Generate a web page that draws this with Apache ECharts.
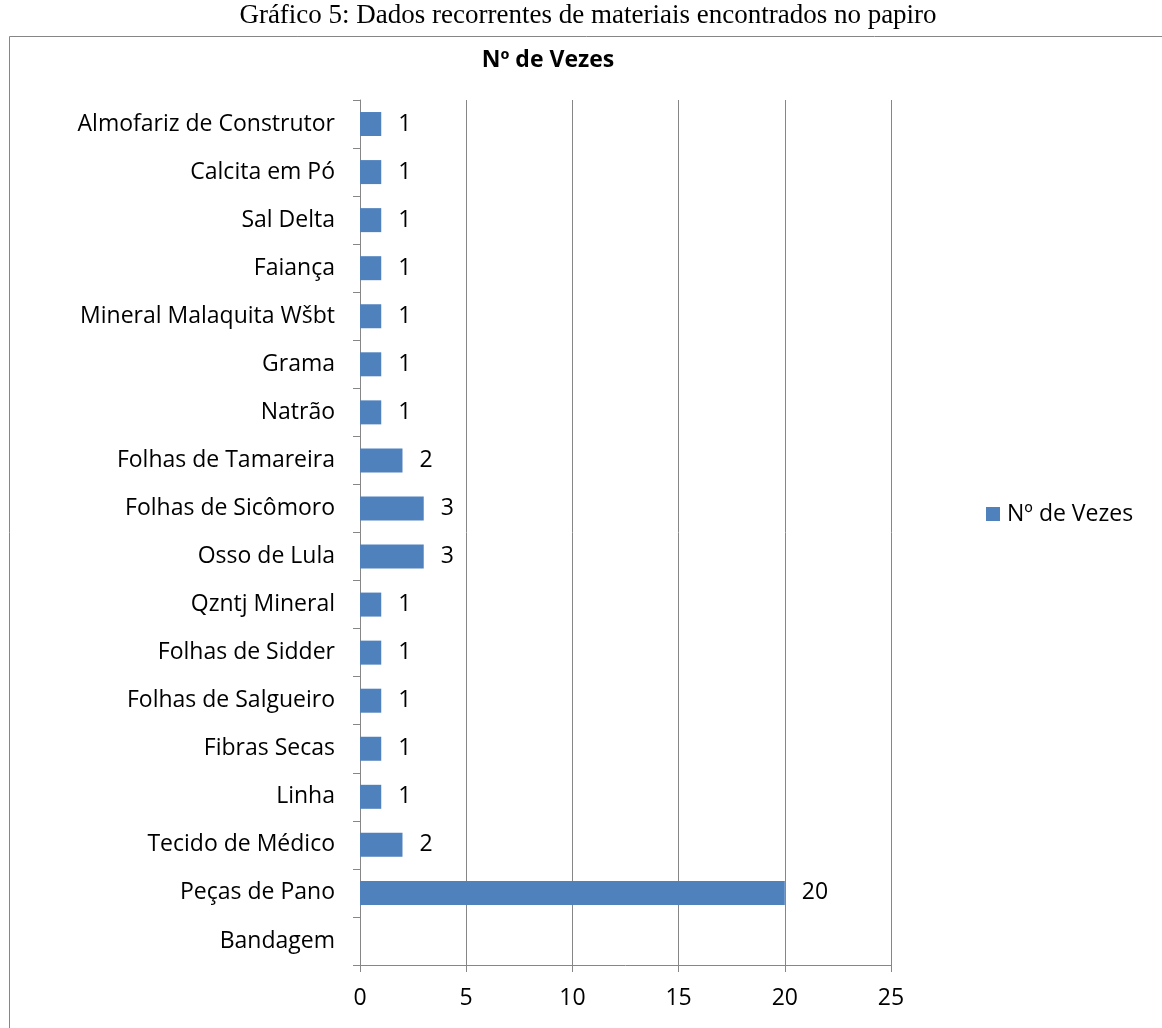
<!DOCTYPE html>
<html>
<head>
<meta charset="utf-8">
<script src="https://cdn.jsdelivr.net/npm/echarts@6/dist/echarts.min.js"></script>
<style>
  html, body { margin: 0; padding: 0; background: #fff; }
  #chart { width: 1162px; height: 1028px; }
</style>
</head>
<body>
<div id="chart"></div>
<script>
// categories listed top to bottom (y axis is inverted)
const categories = [
  'Almofariz de Construtor', 'Calcita em Pó', 'Sal Delta', 'Faiança',
  'Mineral Malaquita Wšbt', 'Grama', 'Natrão', 'Folhas de Tamareira',
  'Folhas de Sicômoro', 'Osso de Lula', 'Qzntj Mineral', 'Folhas de Sidder',
  'Folhas de Salgueiro', 'Fibras Secas', 'Linha', 'Tecido de Médico',
  'Peças de Pano', 'Bandagem'
]
const vezes = [1, 1, 1, 1, 1, 1, 1, 2, 3, 3, 1, 1, 1, 1, 1, 2, 20, null]
const xTicks = [0, 5, 10, 15, 20, 25]

const caption = 'Gráfico 5: Dados recorrentes de materiais encontrados no papiro'
const seriesName = 'Nº de Vezes'

const font = '"Open Sans", "Noto Sans", sans-serif'
const gray = '#868686'
const fs = 23

const chart = echarts.init(document.getElementById('chart'))

chart.setOption({
  backgroundColor: '#fff',
  animation: false,
  title: {
    text: seriesName,
    left: 543,
    top: 44,
    textAlign: 'center',
    textStyle: { fontFamily: font, fontWeight: 'bold', fontSize: 23, color: '#000' }
  },
  graphic: [
    {
      type: 'rect',
      shape: { x: 9.5, y: 36.5, width: 1300, height: 1200 },
      style: { fill: 'none', stroke: gray, lineWidth: 1 },
      silent: true
    },
    {
      type: 'text',
      x: 588,
      y: 2,
      style: {
        text: caption,
        align: 'center',
        verticalAlign: 'top',
        fontFamily: '"Liberation Serif", "DejaVu Serif", serif',
        fontSize: 27,
        fill: '#000'
      }
    }
  ],
  legend: {
    data: [seriesName],
    left: 981,
    top: 'middle',
    itemWidth: 14,
    itemHeight: 14,
    icon: 'rect',
    textStyle: { fontFamily: font, fontSize: fs, color: '#000', padding: [0, 0, 0, 2] }
  },
  grid: { left: 360, right: 271, top: 100, bottom: 63 },
  xAxis: {
    type: 'value',
    min: xTicks[0],
    max: xTicks[xTicks.length - 1],
    interval: 5,
    axisLine: { show: true, lineStyle: { color: gray } },
    axisTick: { show: true, length: 7, lineStyle: { color: gray } },
    axisLabel: { fontFamily: font, fontSize: fs, color: '#000', margin: 22 },
    splitLine: { show: true, lineStyle: { color: gray } }
  },
  yAxis: {
    type: 'category',
    data: categories,
    inverse: true,
    axisLine: { show: true, lineStyle: { color: gray } },
    axisTick: { show: true, length: 7, lineStyle: { color: gray } },
    axisLabel: { fontFamily: font, fontSize: fs, color: '#000', margin: 25 }
  },
  series: [
    {
      name: seriesName,
      type: 'bar',
      data: vezes,
      barWidth: 24,
      itemStyle: { color: '#4F81BD' },
      label: {
        show: true,
        position: 'right',
        distance: 17,
        fontFamily: font,
        fontSize: fs,
        color: '#000'
      }
    }
  ]
})
</script>
</body>
</html>
